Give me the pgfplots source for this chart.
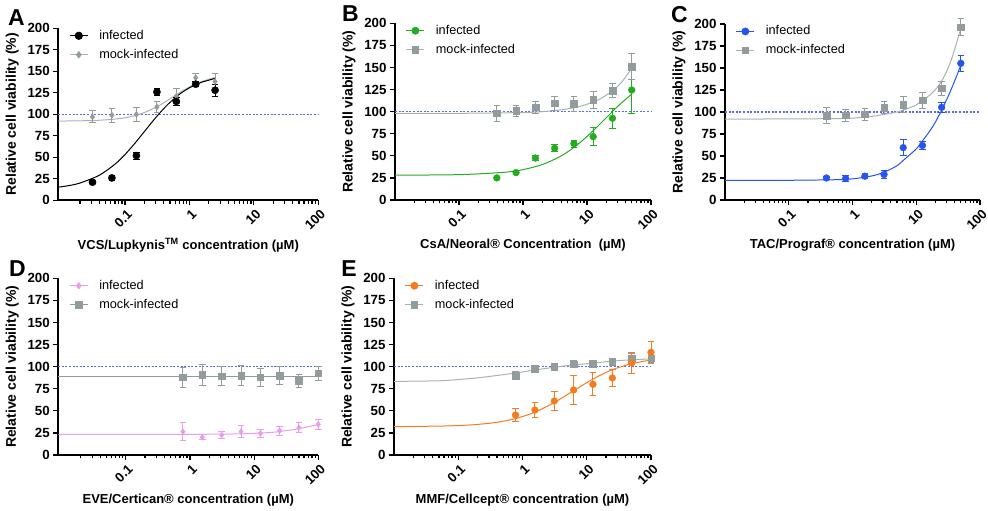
\documentclass[border=0pt]{standalone}
\usepackage{fontspec}
\setmainfont{Liberation Sans}
\usepackage{pgfplots}
\pgfplotsset{compat=1.18}

\definecolor{cgray}{RGB}{146,156,156}
\definecolor{cgrayline}{RGB}{168,178,178}
\definecolor{cgreen}{RGB}{34,172,30}
\definecolor{cblue}{RGB}{38,84,240}
\definecolor{cpink}{RGB}{232,158,236}
\definecolor{corange}{RGB}{246,122,30}
\definecolor{refblue}{RGB}{86,108,240}

\newcommand{\tickfont}{\bfseries\fontsize{13.3}{14}\selectfont}
\newcommand{\labfont}{\bfseries\fontsize{13}{14}\selectfont}
\newcommand{\ylabfont}{\bfseries\fontsize{14}{15}\selectfont}
\newcommand{\legfont}{\fontsize{12.7}{14}\selectfont}

\pgfplotsset{
  every axis/.append style={
    scale only axis, xmode=log, xmax=100, ymin=0, ymax=200,
    axis lines*=left,
    axis line style={line width=1.6pt, black},
    tick style={black, line width=1.2pt},
    tick align=outside,
    major tick length=5pt, minor tick length=3.5pt,
    xtick={0.1,1,10,100}, xticklabels={0.1,1,10,100},
    minor xtick={0.02,0.03,0.04,0.05,0.06,0.07,0.08,0.09,0.2,0.3,0.4,0.5,0.6,0.7,0.8,0.9,2,3,4,5,6,7,8,9,20,30,40,50,60,70,80,90},
    ytick={0,25,50,75,100,125,150,175,200},
    yticklabels={0,25,50,75,100,125,150,175,200},
    xticklabel style={font=\tickfont, rotate=45, anchor=east, yshift=-8pt, xshift=2pt},
    yticklabel style={font=\tickfont},
    ylabel={Relative cell viability (\%)},
    clip=false,
    legend style={at={(axis description cs:0.03,1.01)}, anchor=north west, draw=none, fill=none, font=\legfont, row sep=5pt, nodes={text height=9.5pt, text depth=2.5pt, inner sep=1pt}, /tikz/every odd column/.append style={column sep=10pt}},
    legend cell align=left,
  },
  every axis y label/.style={at={(axis description cs:0,0.5)}, xshift=-46pt, rotate=90, anchor=center, font=\ylabfont},
  every axis x label/.style={at={(axis description cs:0.5,0)}, yshift=-45pt, anchor=center, font=\labfont},
  legend image code/.code={\draw[mark repeat=2,mark phase=2,#1] plot coordinates {(0pt,0pt) (9pt,0pt) (18pt,0pt)};},
  curve/.style={no marks, smooth, line width=1pt, forget plot},
  pts/.style={only marks, forget plot,
    error bars/y dir=both, error bars/y explicit,
    error bars/error bar style={line width=1pt},
    error bars/error mark options={rotate=90, mark size=3.3pt, line width=1pt}},
  refline/.style={no marks, forget plot, line width=1.2pt, color=refblue, dash pattern=on 2pt off 1.6pt},
}

\begin{document}
\begin{tikzpicture}
\path[use as bounding box] (0pt,0pt) rectangle (988pt,511pt);

% ---------------- Panel A ----------------
\begin{axis}[at={(58.3pt,310.7pt)}, anchor=south west, width=260pt, height=172pt, xmin=0.0092,
  xlabel={VCS/Lupkynis\textsuperscript{TM} concentration (µM)}]
\addlegendimage{black, line width=1pt, mark=*, mark size=3.6pt}
\addlegendentry{infected}
\addlegendimage{cgrayline, line width=1pt, mark=diamond*, mark size=3pt, mark options={cgray}}
\addlegendentry{mock-infected}
\addplot[refline] coordinates {(0.0092,100) (100,100)};
\addplot[curve, cgrayline] coordinates {(0.0092,92.1) (0.03,92.7) (0.06,94) (0.1,96) (0.15,99) (0.2,102.1) (0.3,108.1) (0.45,115.8) (0.7,125) (1.0,131.8) (1.5,137.8) (2.5,142.8)};
\addplot[curve, black] coordinates {(0.0092,15.3) (0.013,16.9) (0.02,20.1) (0.04,29.2) (0.07,42.1) (0.1,53.2) (0.15,68.4) (0.2,80) (0.3,96.2) (0.45,110.7) (0.7,123.3) (1.0,130.8) (1.5,136.9) (2.5,141.7)};
\addplot[pts, cgray, mark=diamond*, mark size=3pt] table[x=x, y=y, y error=e, row sep=\\] {
x y e \\ 0.03125 97 7 \\ 0.0625 99 8 \\ 0.15 100 8 \\ 0.3125 108.5 6 \\ 0.625 121 9 \\ 1.25 142.5 5 \\ 2.5 138 10 \\
};
\addplot[pts, black, mark=*, mark size=3.6pt] table[x=x, y=y, y error=e, row sep=\\] {
x y e \\ 0.03125 21 2 \\ 0.0625 26 3 \\ 0.15 52 4 \\ 0.3125 126 4 \\ 0.625 115 5 \\ 1.25 135 3 \\ 2.5 128 7 \\
};
\end{axis}

% ---------------- Panel B ----------------
\begin{axis}[at={(395pt,311pt)}, anchor=south west, width=256pt, height=176.7pt, xmin=0.01,
  xlabel={CsA/Neoral® Concentration\ \ (µM)}]
\addlegendimage{cgreen, line width=1pt, mark=*, mark size=3.4pt}
\addlegendentry{infected}
\addlegendimage{cgrayline, line width=1pt, mark=square*, mark size=3.3pt, mark options={cgray}}
\addlegendentry{mock-infected}
\addplot[refline] coordinates {(0.01,100) (100,100)};
\addplot[curve, cgrayline] coordinates {(0.01,98) (0.1,98.1) (1,99) (2,100) (4,102.1) (8,106.2) (15,113.3) (25,123.5) (35,133.7) (50,149)};
\addplot[curve, cgreen] coordinates {(0.01,28.1) (0.1,28.7) (0.5,31.3) (1,34.4) (2,40.1) (4,50.1) (7,62.2) (12,77.2) (20,93.1) (30,105.8) (50,120)};
\addplot[pts, cgreen, mark=*, mark size=3.4pt] table[x=x, y=y, y error=e, row sep=\\] {
x y e \\ 0.39 25 1.5 \\ 0.78 31 1.5 \\ 1.5625 47.5 3 \\ 3.125 58.5 4 \\ 6.25 63.8 4 \\ 12.5 71.7 10 \\ 25 92.5 11.3 \\ 50 124.5 26.5 \\
};
\addplot[pts, cgray, mark=square*, mark size=3.3pt] table[x=x, y=y, y error=e, row sep=\\] {
x y e \\ 0.39 98.1 9 \\ 0.78 100.8 6 \\ 1.5625 104.9 7 \\ 3.125 109.4 8 \\ 6.25 108.7 9 \\ 12.5 113.2 10 \\ 25 123.8 7.6 \\ 50 151 15 \\
};
\end{axis}

% ---------------- Panel C ----------------
\begin{axis}[at={(725pt,311pt)}, anchor=south west, width=255pt, height=176pt, xmin=0.01,
  xlabel={TAC/Prograf® concentration (µM)}]
\addlegendimage{cblue, line width=1pt, mark=*, mark size=3.4pt}
\addlegendentry{infected}
\addlegendimage{cgrayline, line width=1pt, mark=square*, mark size=3.3pt, mark options={cgray}}
\addlegendentry{mock-infected}
\addplot[refline] coordinates {(0.01,100) (100,100)};
\addplot[curve, cgrayline] coordinates {(0.01,92) (0.1,92.1) (0.5,92.5) (1,93) (2,95) (3.125,97.3) (5,100) (6.25,102) (10,108) (12.5,113) (18,122) (25,135) (35,158) (50,195)};
\addplot[curve, cblue] coordinates {(0.01,22.3) (0.1,22.4) (0.5,23) (1,24) (2,27.3) (3.125,31.5) (5,39) (6.25,45) (10,58) (12.5,67) (18,83) (25,102) (35,125) (50,153)};
\addplot[pts, cgray, mark=square*, mark size=3.3pt] table[x=x, y=y, y error=e, row sep=\\] {
x y e \\ 0.39 95.8 9 \\ 0.78 96.2 7 \\ 1.5625 97.3 7 \\ 3.125 104.9 7 \\ 6.25 108.5 9 \\ 12.5 113.3 9 \\ 25 126.9 8 \\ 50 196.5 10 \\
};
\addplot[pts, cblue, mark=*, mark size=3.4pt] table[x=x, y=y, y error=e, row sep=\\] {
x y e \\ 0.39 25 1.5 \\ 0.78 24.5 3 \\ 1.5625 27 3 \\ 3.125 29 5 \\ 6.25 59.5 9 \\ 12.5 62 5 \\ 25 105.3 6 \\ 50 155.3 9 \\
};
\end{axis}

% ---------------- Panel D ----------------
\begin{axis}[at={(58.3pt,56pt)}, anchor=south west, width=260pt, height=176.7pt, xmin=0.0089,
  xlabel={EVE/Certican® concentration (µM)}]
\addlegendimage{cpink, line width=1pt, mark=diamond*, mark size=3pt}
\addlegendentry{infected}
\addlegendimage{cgray, line width=1pt, mark=square*, mark size=3.3pt}
\addlegendentry{mock-infected}
\addplot[refline] coordinates {(0.0089,100) (100,100)};
\addplot[curve, cgray] coordinates {(0.0089,89) (100,89)};
\addplot[curve, cpink] coordinates {(0.0089,23.2) (1,23.4) (5,23.8) (10,24.5) (20,25.8) (35,28) (50,29.8) (70,32) (100,34.5)};
\addplot[pts, cgray, mark=square*, mark size=3.3pt] table[x=x, y=y, y error=e, row sep=\\] {
x y e \\ 0.78 87.9 11 \\ 1.5625 90.6 12 \\ 3.125 89.4 11 \\ 6.25 89.8 11 \\ 12.5 87.9 10 \\ 25 89.8 10 \\ 50 83.8 7 \\ 100 92.7 8 \\
};
\addplot[pts, cpink, mark=diamond*, mark size=3pt] table[x=x, y=y, y error=e, row sep=\\] {
x y e \\ 0.78 26.4 10 \\ 1.5625 20 3 \\ 3.125 22.6 4 \\ 6.25 26.4 7 \\ 12.5 24.5 4.5 \\ 25 27.5 5 \\ 50 30.9 6 \\ 100 34.7 6 \\
};
\end{axis}

% ---------------- Panel E ----------------
\begin{axis}[at={(394pt,56pt)}, anchor=south west, width=257pt, height=176.7pt, xmin=0.01,
  xlabel={MMF/Cellcept® concentration (µM)}]
\addlegendimage{corange, line width=1pt, mark=*, mark size=3.4pt}
\addlegendentry{infected}
\addlegendimage{cgrayline, line width=1pt, mark=square*, mark size=3.3pt, mark options={cgray}}
\addlegendentry{mock-infected}
\addplot[refline] coordinates {(0.01,100) (100,100)};
\addplot[curve, cgrayline] coordinates {(0.01,83.3) (0.05,84) (0.1,85.4) (0.2,87.3) (0.4,90) (0.78,92.8) (1.56,96.2) (3.125,99.3) (6.25,101.9) (12.5,104) (25,106.2) (50,107.8) (100,108.7)};
\addplot[curve, corange] coordinates {(0.01,32.1) (0.05,32.7) (0.1,33.3) (0.2,34.6) (0.4,37) (0.78,41.2) (1.56,48.5) (3.125,59.4) (6.25,72.8) (12.5,86) (25,96.5) (50,103.4) (100,107.5)};
\addplot[pts, cgray, mark=square*, mark size=3.3pt] table[x=x, y=y, y error=e, row sep=\\] {
x y e \\ 0.78 90 5 \\ 1.5625 97.4 4 \\ 3.125 100 3 \\ 6.25 102.6 4 \\ 12.5 103 4 \\ 25 105.7 3 \\ 50 109.4 5 \\ 100 109.4 6 \\
};
\addplot[pts, corange, mark=*, mark size=3.4pt] table[x=x, y=y, y error=e, row sep=\\] {
x y e \\ 0.78 45.3 7 \\ 1.5625 50.9 8 \\ 3.125 61.1 11 \\ 6.25 73.6 16 \\ 12.5 80 13 \\ 25 87.2 9.5 \\ 50 104.2 12 \\ 100 116.2 12 \\
};
\end{axis}

% panel letters
\node[font=\bfseries\fontsize{23}{23}\selectfont] at (16.5pt,493.5pt) {A};
\node[font=\bfseries\fontsize{23}{23}\selectfont] at (350.5pt,497.5pt) {B};
\node[font=\bfseries\fontsize{23}{23}\selectfont] at (679.5pt,496pt) {C};
\node[font=\bfseries\fontsize{23}{23}\selectfont] at (17.5pt,242pt) {D};
\node[font=\bfseries\fontsize{23}{23}\selectfont] at (349pt,242pt) {E};
\end{tikzpicture}
\end{document}
